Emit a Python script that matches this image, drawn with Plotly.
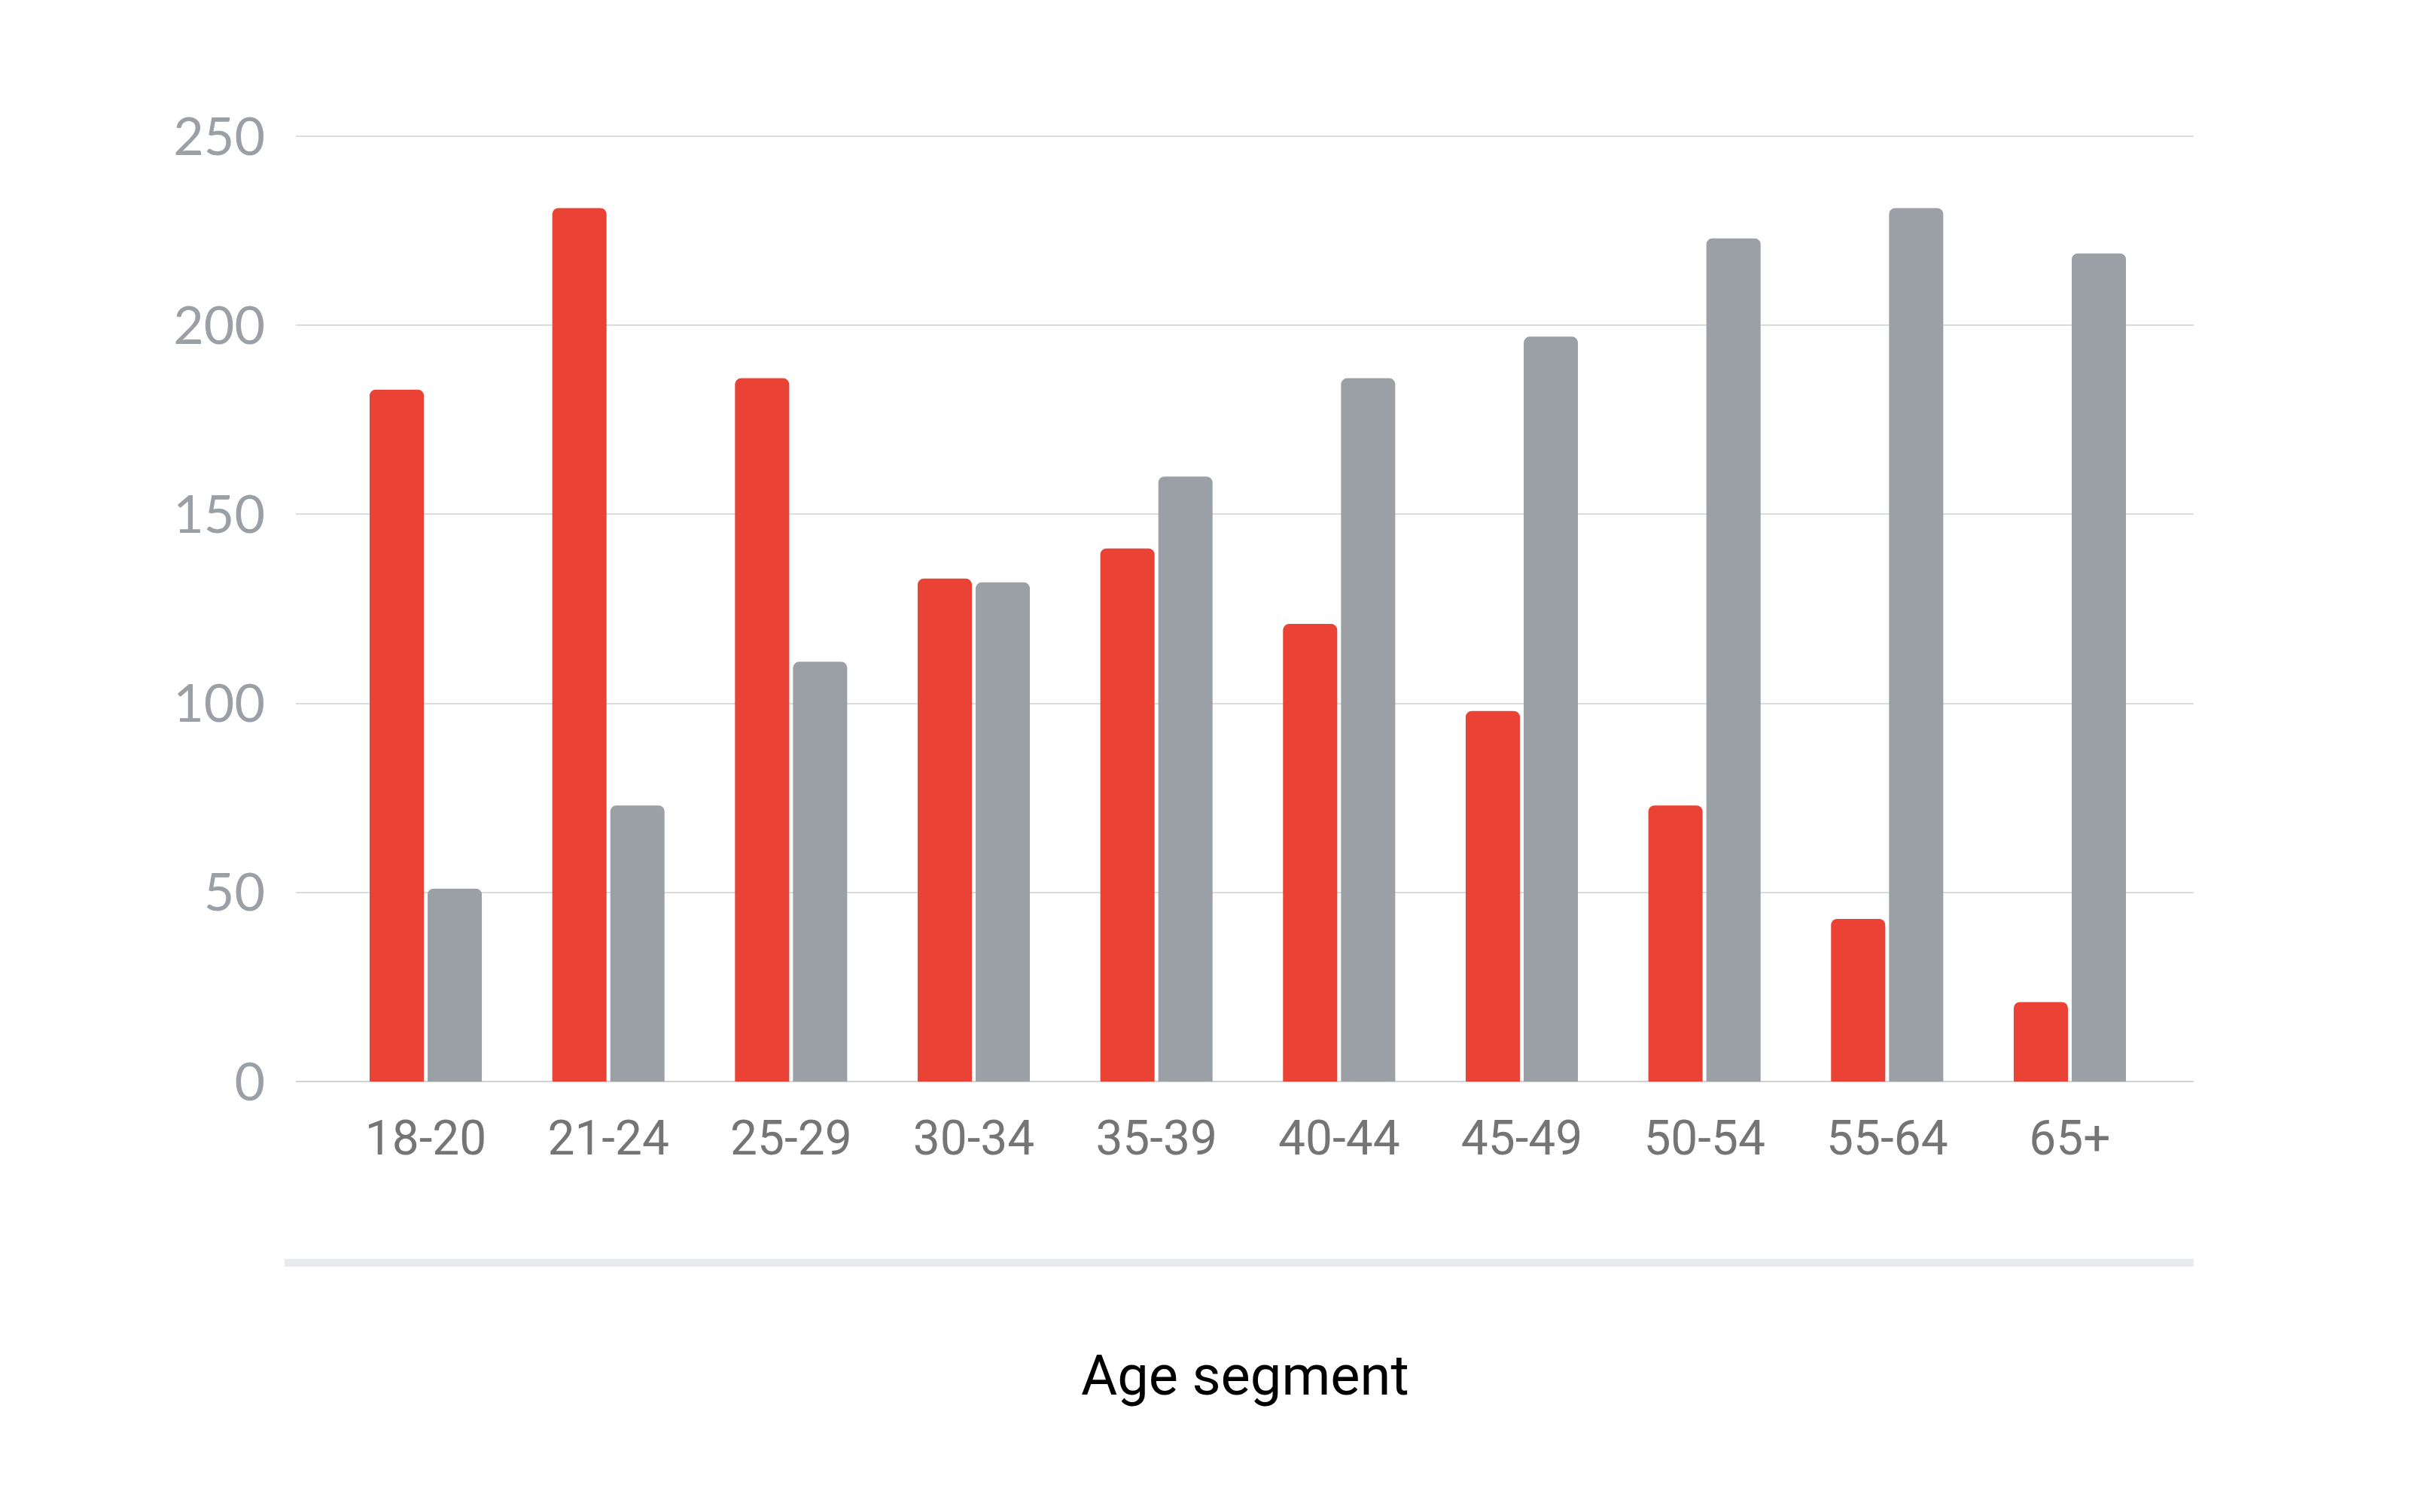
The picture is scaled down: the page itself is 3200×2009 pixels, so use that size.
import plotly.graph_objects as go

# age segments and the two series
age_segments = ['18-20', '21-24', '25-29', '30-34', '35-39', '40-44', '45-49', '50-54', '55-64', '65+']
red_values = [183, 231, 186, 133, 141, 121, 98, 73, 43, 21]
gray_values = [51, 73, 111, 132, 160, 186, 197, 223, 231, 219]
y_ticks = [0, 50, 100, 150, 200, 250]

RED = '#ea4335'
GRAY = '#9aa0a6'

fig = go.Figure()

fig.add_trace(go.Bar(x=age_segments, y=red_values, name='Series 1',
                     marker=dict(color=RED, line=dict(width=0), cornerradius=8)))
fig.add_trace(go.Bar(x=age_segments, y=gray_values, name='Series 2',
                     marker=dict(color=GRAY, line=dict(width=0), cornerradius=8)))

# light separator bar under the axis labels
fig.add_shape(type='rect', xref='paper', yref='paper',
              x0=-0.006, x1=1.0, y0=-0.195, y1=-0.187,
              fillcolor='#e8eaed', line=dict(width=0), layer='below')

fig.add_annotation(text='Age segment', xref='paper', yref='paper',
                   x=0.5, y=-0.31, xanchor='center', yanchor='middle',
                   showarrow=False, font=dict(family='Roboto', size=74, color='#000000'))

# page body has an 8px margin, so margins are shifted by that much
fig.update_layout(
    width=3200,
    height=2009,
    margin=dict(l=385, r=294, t=168, b=580),
    paper_bgcolor='white',
    plot_bgcolor='white',
    barmode='group',
    bargap=0.365,
    bargroupgap=0.065,
    showlegend=False,
    xaxis=dict(
        type='category',
        range=[-0.711, 9.678],
        showgrid=False,
        showline=False,
        zeroline=False,
        ticks='',
        tickfont=dict(family='Roboto', size=64, color='#757575'),
        ticklabelstandoff=32,
    ),
    yaxis=dict(
        range=[0, 251],
        tickvals=y_ticks,
        showgrid=True,
        gridcolor='#dadce0',
        gridwidth=2,
        zeroline=True,
        zerolinecolor='#d0d2d6',
        zerolinewidth=2,
        showline=False,
        ticks='',
        ticklabelstandoff=40,
        tickfont=dict(family='Lato', size=70, color=GRAY),
    ),
)

fig.write_html('out.html')
